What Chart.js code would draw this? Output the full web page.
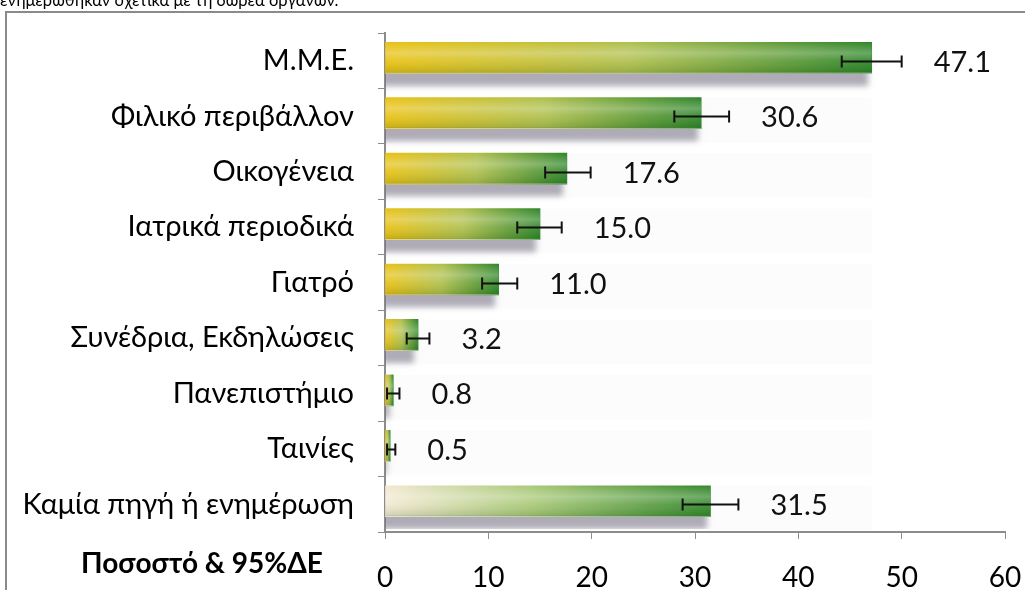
<!DOCTYPE html>
<html>
<head>
<meta charset="utf-8">
<script src="https://cdn.jsdelivr.net/npm/chart.js@4"></script>
<style>
  html, body { margin: 0; padding: 0; background: #fff; }
  #wrap { width: 1025px; height: 590px; position: relative; }
</style>
</head>
<body>
<div id="wrap"><canvas id="myChart" width="1025" height="590"></canvas></div>
<script>
// data
const titleText = 'ενημερώθηκαν σχετικά με τη δωρεά οργάνων.';
const categories = ['Μ.Μ.Ε.', 'Φιλικό περιβάλλον', 'Οικογένεια', 'Ιατρικά περιοδικά', 'Γιατρό',
  'Συνέδρια, Εκδηλώσεις', 'Πανεπιστήμιο', 'Ταινίες', 'Καμία πηγή ή ενημέρωση'];
const percent = [47.1, 30.6, 17.6, 15.0, 11.0, 3.2, 0.8, 0.5, 31.5];
const ciLow = [44.2, 28.0, 15.5, 12.8, 9.4, 2.1, 0.2, 0.2, 28.8];
const ciHigh = [50.0, 33.3, 19.9, 17.1, 12.8, 4.3, 1.4, 1.0, 34.2];
const axisTitle = 'Ποσοστό & 95%ΔΕ';

const FONT = 'Lato, "Open Sans", sans-serif';
const axisGray = '#8c8c8c';

function barGradient(context) {
  const chart = context.chart;
  if (!chart.chartArea) return '#7aa83a';
  const x = chart.scales.x;
  const x0 = x.getPixelForValue(0);
  const x1 = Math.max(x.getPixelForValue(context.raw), x0 + 1);
  const g = chart.ctx.createLinearGradient(x0, 0, x1, 0);
  if (context.dataIndex === categories.length - 1) {
    g.addColorStop(0, '#f3e9d2');
    g.addColorStop(0.45, '#a9c978');
    g.addColorStop(1, '#35892c');
  } else {
    g.addColorStop(0, '#e9c214');
    g.addColorStop(0.5, '#b0c04e');
    g.addColorStop(1, '#2f862a');
  }
  return g;
}

function noPadding(scale) {
  scale.paddingTop = 0;
  scale.paddingBottom = 0;
  scale.paddingLeft = 0;
  scale.paddingRight = 0;
}

const barEffects = {
  id: 'barEffects',
  beforeDatasetsDraw(chart) {
    // faint row bands behind the bars
    const ctx = chart.ctx;
    const meta = chart.getDatasetMeta(0);
    const x = chart.scales.x;
    const maxPx = x.getPixelForValue(Math.max(...percent));
    ctx.save();
    ctx.fillStyle = 'rgba(0,0,0,0.012)';
    meta.data.forEach(bar => {
      const h = bar.height;
      ctx.fillRect(x.getPixelForValue(0), bar.y - h / 2 - 3, maxPx - x.getPixelForValue(0), h + 14);
    });
    ctx.restore();
  },
  beforeDatasetDraw(chart) {
    const ctx = chart.ctx;
    ctx.save();
    ctx.translate(0, -3);
    ctx.shadowColor = 'rgba(110,105,125,0.55)';
    ctx.shadowBlur = 6;
    ctx.shadowOffsetY = 12;
    ctx.shadowOffsetX = -4;
  },
  afterDatasetDraw(chart) {
    const ctx = chart.ctx;
    ctx.restore();
    // bevel highlight
    const meta = chart.getDatasetMeta(0);
    ctx.save();
    meta.data.forEach(bar => {
      const top = bar.y - bar.height / 2 - 3;
      const g = ctx.createLinearGradient(0, top, 0, top + bar.height);
      g.addColorStop(0, 'rgba(255,255,255,0)');
      g.addColorStop(0.35, 'rgba(255,255,255,0.28)');
      g.addColorStop(0.6, 'rgba(255,255,255,0.08)');
      g.addColorStop(0.95, 'rgba(0,40,0,0.12)');
      g.addColorStop(1, 'rgba(255,255,255,0.7)');
      ctx.fillStyle = g;
      ctx.fillRect(bar.base, top, bar.x - bar.base, bar.height);
    });
    ctx.restore();
  },
  afterDatasetsDraw(chart) {
    const ctx = chart.ctx;
    const x = chart.scales.x;
    const y = chart.scales.y;
    ctx.save();
    ctx.strokeStyle = '#111';
    ctx.lineWidth = 2;
    ctx.fillStyle = '#111';
    ctx.font = '29px ' + FONT;
    ctx.textBaseline = 'middle';
    ctx.textAlign = 'left';
    for (let i = 0; i < categories.length; i++) {
      const cy = Math.round(y.getPixelForValue(i)) + 0.5;
      const lo = x.getPixelForValue(ciLow[i]);
      const hi = x.getPixelForValue(ciHigh[i]);
      ctx.beginPath();
      ctx.moveTo(lo, cy); ctx.lineTo(hi, cy);
      ctx.moveTo(lo, cy - 6); ctx.lineTo(lo, cy + 6);
      ctx.moveTo(hi, cy - 6); ctx.lineTo(hi, cy + 6);
      ctx.stroke();
      ctx.fillText(percent[i].toFixed(1), hi + 32, cy + 1);
    }
    ctx.restore();
  },
  afterDraw(chart) {
    const ctx = chart.ctx;
    ctx.save();
    // chart frame
    ctx.strokeStyle = '#8a8a8a';
    ctx.lineWidth = 2;
    ctx.strokeRect(6, 12, 1100, 700);
    // cut-off title above the frame
    ctx.fillStyle = '#000';
    ctx.font = '16.5px ' + FONT;
    ctx.textBaseline = 'alphabetic';
    ctx.fillText(titleText, 0, 6);
    // axis caption
    ctx.font = 'bold 28px ' + FONT;
    ctx.textAlign = 'left';
    ctx.textBaseline = 'middle';
    ctx.fillText(axisTitle, 81, 564);
    ctx.restore();
  }
};

const ctx = document.getElementById('myChart');
new Chart(ctx, {
  type: 'bar',
  data: {
    labels: categories,
    datasets: [
      {
        label: axisTitle,
        data: percent,
        backgroundColor: barGradient,
        borderWidth: 0,
        barThickness: 31,
      },
    ],
  },
  options: {
    indexAxis: 'y',
    responsive: false,
    animation: false,
    layout: { padding: { left: 0, top: 33, right: 20, bottom: 0 } },
    plugins: {
      legend: { display: false },
      tooltip: { enabled: false },
    },
    scales: {
      x: {
        min: 0,
        max: 60,
        ticks: { stepSize: 10, color: '#000', font: { family: FONT, size: 28 }, padding: 22 },
        grid: { drawOnChartArea: false, drawTicks: true, tickLength: 7, color: axisGray },
        border: { color: axisGray, width: 2 },
        afterFit(scale) { scale.height = 58; noPadding(scale); },
      },
      y: {
        ticks: { color: '#000', font: { family: FONT, size: 29 }, padding: 24 },
        grid: { drawOnChartArea: false, drawTicks: true, tickLength: 7, color: axisGray, offset: true },
        border: { color: axisGray, width: 2 },
        afterFit(scale) { scale.width = 385; noPadding(scale); },
      },
    },
  },
  plugins: [barEffects],
});
</script>
</body>
</html>
